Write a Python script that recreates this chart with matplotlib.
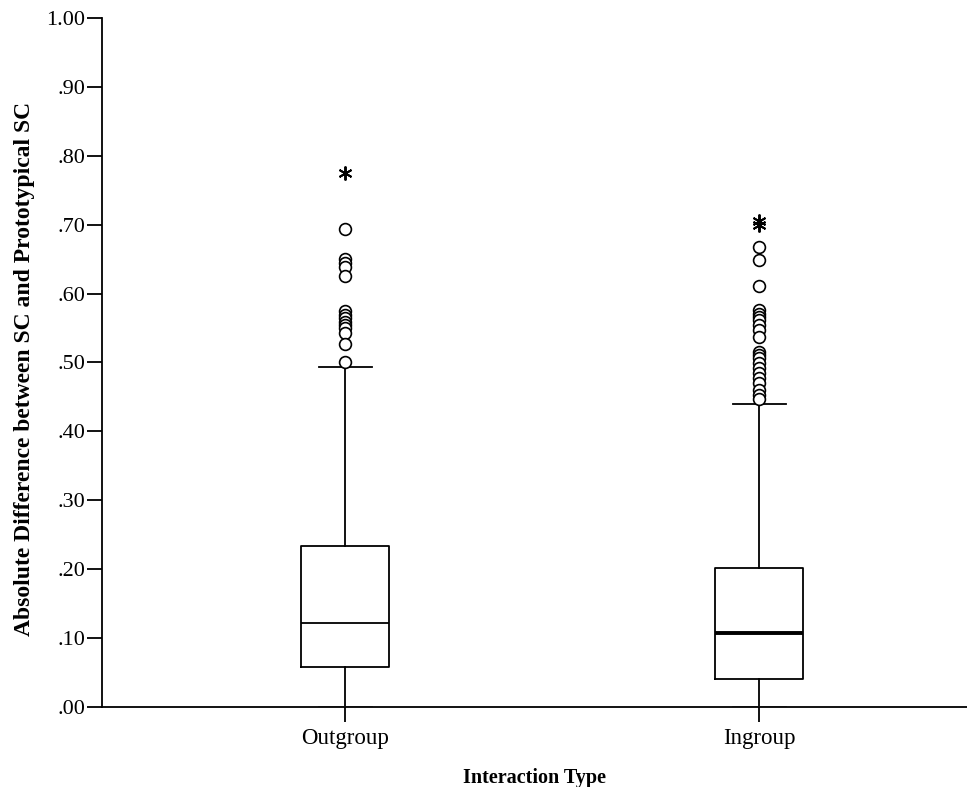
import matplotlib
matplotlib.use("Agg")
import matplotlib.pyplot as plt
from matplotlib.ticker import FuncFormatter

# values
groups = ["Outgroup", "Ingroup"]
q1 = [0.058, 0.0406]
median = [0.1219, 0.1074]
q3 = [0.2337, 0.2017]
whisker_low = [0.0, 0.0]
whisker_high = [0.4935, 0.440]

# circles = outliers, stars = extreme values
outliers = [
    [0.693, 0.6498, 0.645, 0.639, 0.6255, 0.574, 0.569, 0.564, 0.559,
     0.554, 0.5496, 0.543, 0.5264, 0.500],
    [0.667, 0.649, 0.611, 0.576, 0.571, 0.566, 0.562, 0.554, 0.547,
     0.537, 0.5157, 0.511, 0.506, 0.4988, 0.4916, 0.484, 0.477, 0.470,
     0.460, 0.453, 0.4466],
]
extremes = [[0.7755], [0.706, 0.700]]

plt.rcParams["font.family"] = ["Liberation Serif", "DejaVu Serif"]

fig = plt.figure(figsize=(9.67, 7.87), dpi=100)
ax = fig.add_axes([0.1055, 0.1017, 0.894, 0.8755])

stats = []
for i, g in enumerate(groups):
    stats.append(dict(label=g, q1=q1[i], med=median[i], q3=q3[i],
                      whislo=whisker_low[i], whishi=whisker_high[i],
                      fliers=[]))

pos = [1, 2]
res = ax.bxp(stats, positions=pos, widths=0.2126, showfliers=False,
             boxprops=dict(color="black", linewidth=1.3),
             whiskerprops=dict(color="black", linewidth=1.3),
             capprops=dict(color="black", linewidth=1.3),
             medianprops=dict(color="black", linewidth=1.3),
             capwidths=0.128)
res["medians"][1].set_linewidth(2.8)
# lower caps sit on the axis line and look grey
for c in res["caps"][0::2]:
    c.set_color("#999999")

for i, p in enumerate(pos):
    ax.plot([p] * len(outliers[i]), outliers[i], "o", ms=8.5,
            mfc="white", mec="black", mew=1.2, zorder=3)
    ax.plot([p] * len(extremes[i]), extremes[i], marker=(6, 2, 0),
            ls="none", ms=10, mew=1.4, color="black", zorder=3)

ax.set_xlim(0.413, 2.5)
ax.set_ylim(0, 1.0)
ax.set_yticks([i / 10 for i in range(11)])
ax.yaxis.set_major_formatter(
    FuncFormatter(lambda v, _: f"{v:.2f}" if v >= 1 else f"{v:.2f}"[1:]))
ax.set_xticks(pos)
ax.set_xticklabels(groups)

ax.spines["top"].set_visible(False)
ax.spines["right"].set_visible(False)
for s in ["left", "bottom"]:
    ax.spines[s].set_linewidth(1.3)
ax.tick_params(axis="both", direction="out", length=11, width=1.3, pad=1)
ax.tick_params(axis="y", labelsize=16)
ax.tick_params(axis="x", labelsize=16.5, pad=4)

ax.set_xlabel("Interaction Type", fontsize=14.5, fontweight="bold",
              labelpad=14)
ax.set_ylabel("Absolute Difference between SC and Prototypical SC",
              fontsize=17, fontweight="bold")
ax.yaxis.set_label_coords(-0.077, 0.49)

fig.savefig("out.png", dpi=100)
